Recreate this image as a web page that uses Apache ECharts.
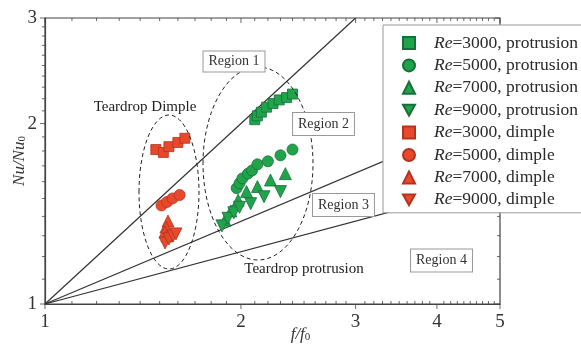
<!DOCTYPE html>
<html>
<head>
<meta charset="utf-8">
<script src="https://cdn.jsdelivr.net/npm/echarts@6/dist/echarts.min.js"></script>
<style>
  html, body { margin: 0; padding: 0; background: #fff; }
  #chart { width: 581px; height: 345px; }
</style>
</head>
<body>
<div id="chart"></div>
<script>
// 座標軸刻度
const xMajor = [1, 2, 3, 4, 5];
const yMajor = [1, 2, 3];
const xMinor = [1.1, 1.2, 1.3, 1.4, 1.5, 1.6, 1.7, 1.8, 1.9,
  2.1, 2.2, 2.3, 2.4, 2.5, 2.6, 2.7, 2.8, 2.9,
  3.1, 3.2, 3.3, 3.4, 3.5, 3.6, 3.7, 3.8, 3.9,
  4.1, 4.2, 4.3, 4.4, 4.5, 4.6, 4.7, 4.8, 4.9];
const yMinor = [1.1, 1.2, 1.3, 1.4, 1.5, 1.6, 1.7, 1.8, 1.9,
  2.1, 2.2, 2.3, 2.4, 2.5, 2.6, 2.7, 2.8, 2.9];

// 數據 [f/f0, Nu/Nu0]
const pro3000 = [[2.10, 2.03], [2.12, 2.06], [2.15, 2.09], [2.19, 2.13], [2.24, 2.16], [2.29, 2.19], [2.35, 2.21], [2.40, 2.24]];
const pro5000 = [[1.97, 1.56], [1.99, 1.59], [2.01, 1.62], [2.05, 1.65], [2.08, 1.67], [2.12, 1.71], [2.20, 1.73], [2.30, 1.77], [2.40, 1.81]];
const pro7000 = [[1.89, 1.38], [1.93, 1.43], [1.98, 1.49], [2.04, 1.54], [2.12, 1.57], [2.22, 1.61], [2.34, 1.65]];
const pro9000 = [[1.87, 1.35], [1.91, 1.39], [1.95, 1.42], [1.99, 1.45], [2.07, 1.47], [2.17, 1.51], [2.30, 1.54]];
const dim3000 = [[1.48, 1.81], [1.52, 1.79], [1.55, 1.83], [1.60, 1.86], [1.64, 1.89]];
const dim5000 = [[1.51, 1.46], [1.54, 1.48], [1.57, 1.50], [1.61, 1.52]];
const dim7000 = [[1.545, 1.375], [1.534, 1.344], [1.529, 1.319], [1.54, 1.299]];
const dim9000 = [[1.529, 1.264], [1.550, 1.284], [1.573, 1.299], [1.589, 1.309]];

// 分區線
const lineA = [[1, 1], [3, 3]];
const lineB = [[1, 1], [5, 2.09]];
const lineC = [[1, 1], [5, 1.594]];

const serif = '"Liberation Serif", "DejaVu Serif", serif';
const green = '#20a34b';
const greenEdge = '#15703a';
const red = '#e8492d';
const redEdge = '#b3341c';
const axisColor = '#444';
const downTri = 'path://M0,0 L10,0 L5,9 Z';

const chart = echarts.init(document.getElementById("chart"));

const scatter = (name, data, symbol, color, edge, size) => ({
  name: name,
  type: "scatter",
  data: data,
  symbol: symbol,
  symbolSize: size,
  itemStyle: { color: color, borderColor: edge, borderWidth: 0.8, opacity: 1 },
  z: 3,
});

const guide = (data) => ({
  type: "line",
  data: data,
  symbol: "none",
  silent: true,
  lineStyle: { color: "#333", width: 1.2 },
  z: 2,
});

// 刻度: 細長方形散點放在軸上
const tick = (data, size, offset) => ({
  type: "scatter",
  data: data,
  symbol: "rect",
  symbolSize: size,
  symbolOffset: offset,
  itemStyle: { color: axisColor },
});

const boxText = (text, x, y, pad) => ({
  type: "text",
  z: 10,
  style: {
    text: text, x: x, y: y, align: "center", verticalAlign: "middle",
    font: "14px " + serif, fill: "#333",
    backgroundColor: "#fff", borderColor: "#999", borderWidth: 1, padding: pad,
  },
});

const subRich = {
  i: { fontFamily: serif, fontStyle: "italic", fontSize: 17, color: "#333" },
  s: { fontFamily: serif, fontSize: 11, color: "#333", verticalAlign: "bottom", padding: [6, 0, 0, 0] },
};

chart.setOption({
  animation: false,
  grid: {
    left: 45, right: 81, top: 18, bottom: 41,
    outerBoundsMode: "none", containLabel: false,
    show: true, borderColor: axisColor, borderWidth: 1.2,
  },
  xAxis: {
    type: "log", min: 1, max: 5,
    axisLine: { show: true, lineStyle: { color: axisColor, width: 1.2 } },
    axisTick: { show: false },
    axisLabel: { show: true, customValues: xMajor, margin: 9, fontFamily: serif, fontSize: 19, color: "#333" },
    splitLine: { show: false },
    name: "{i|f/f}{s|0}",
    nameLocation: "middle",
    nameGap: 22,
    nameMoveOverlap: false,
    nameTextStyle: { padding: [0, 0, 0, 56], rich: subRich },
  },
  yAxis: {
    type: "log", min: 1, max: 3,
    axisLine: { show: true, lineStyle: { color: axisColor, width: 1.2 } },
    axisTick: { show: false },
    axisLabel: { show: true, customValues: yMajor, margin: 8, fontFamily: serif, fontSize: 19, color: "#333" },
    splitLine: { show: false },
    name: "{i|Nu/Nu}{s|0}",
    nameLocation: "middle",
    nameGap: 17,
    nameMoveOverlap: false,
    nameTextStyle: { rich: subRich },
  },
  legend: {
    orient: "vertical",
    left: 383,
    top: 25,
    padding: [9, 60, 4, 19],
    itemGap: 4.4,
    itemWidth: 12,
    itemHeight: 12,
    backgroundColor: "#fff",
    borderColor: "#999",
    borderWidth: 1,
    z: 8,
    formatter: (n) => "{sp| }{i|Re}{t|" + n.slice(2) + "}",
    textStyle: {
      fontFamily: serif, fontSize: 17.5, color: "#2a2a2a", lineHeight: 18,
      rich: {
        sp: { width: 14, fontSize: 17.5 },
        i: { fontFamily: serif, fontStyle: "italic", fontSize: 17.5, color: "#2a2a2a", lineHeight: 18 },
        t: { fontFamily: serif, fontSize: 17.5, color: "#2a2a2a", lineHeight: 18 },
      },
    },
    data: [
      "Re=3000, protrusion", "Re=5000, protrusion", "Re=7000, protrusion", "Re=9000, protrusion",
      "Re=3000, dimple", "Re=5000, dimple", "Re=7000, dimple", "Re=9000, dimple",
    ],
  },
  series: [
    // bottom: major outward, minor inward; top: inward
    tick(xMajor.map((v) => [v, 1]), [1, 5], [0, 2.5]),
    tick(xMinor.map((v) => [v, 1]), [1, 3], [0, -1.5]),
    tick(xMajor.map((v) => [v, 3]), [1, 5], [0, 2.5]),
    tick(xMinor.map((v) => [v, 3]), [1, 3], [0, 1.5]),
    // left: outward; right: inward
    tick(yMajor.map((v) => [1, v]), [5, 1], [-2.5, 0]),
    tick(yMinor.map((v) => [1, v]), [3, 1], [-1.5, 0]),
    tick(yMajor.map((v) => [5, v]), [5, 1], [-2.5, 0]),
    tick(yMinor.map((v) => [5, v]), [3, 1], [-1.5, 0]),
    guide(lineA),
    guide(lineB),
    guide(lineC),
    scatter("Re=3000, protrusion", pro3000, "rect", green, greenEdge, 10),
    scatter("Re=5000, protrusion", pro5000, "circle", green, greenEdge, 11),
    scatter("Re=7000, protrusion", pro7000, "triangle", green, greenEdge, 12),
    scatter("Re=9000, protrusion", pro9000, downTri, green, greenEdge, 12),
    scatter("Re=3000, dimple", dim3000, "rect", red, redEdge, 10),
    scatter("Re=5000, dimple", dim5000, "circle", red, redEdge, 11),
    scatter("Re=7000, dimple", dim7000, "triangle", red, redEdge, 12),
    scatter("Re=9000, dimple", dim9000, downTri, red, redEdge, 12),
  ],
  graphic: [
    {
      type: "ellipse", z: 5, silent: true,
      shape: { cx: 169, cy: 192, rx: 30, ry: 77 },
      style: { fill: "none", stroke: "#222", lineWidth: 1, lineDash: [4, 3] },
    },
    {
      type: "ellipse", z: 5, silent: true,
      shape: { cx: 258, cy: 163.5, rx: 55, ry: 96.5 },
      style: { fill: "none", stroke: "#222", lineWidth: 1, lineDash: [4, 3] },
    },
    boxText("Region 1", 234, 61.5, [3, 5]),
    boxText("Region 2", 323.5, 124, [4, 5]),
    boxText("Region 3", 343.5, 205, [4, 5]),
    boxText("Region 4", 441.5, 260.5, [4, 5]),
    {
      type: "text", z: 10,
      style: { text: "Teardrop Dimple", x: 145, y: 107, align: "center", verticalAlign: "middle", font: "15px " + serif, fill: "#222" },
    },
    {
      type: "text", z: 10,
      style: { text: "Teardrop protrusion", x: 304, y: 269, align: "center", verticalAlign: "middle", font: "15px " + serif, fill: "#222" },
    },
  ],
});
</script>
</body>
</html>
